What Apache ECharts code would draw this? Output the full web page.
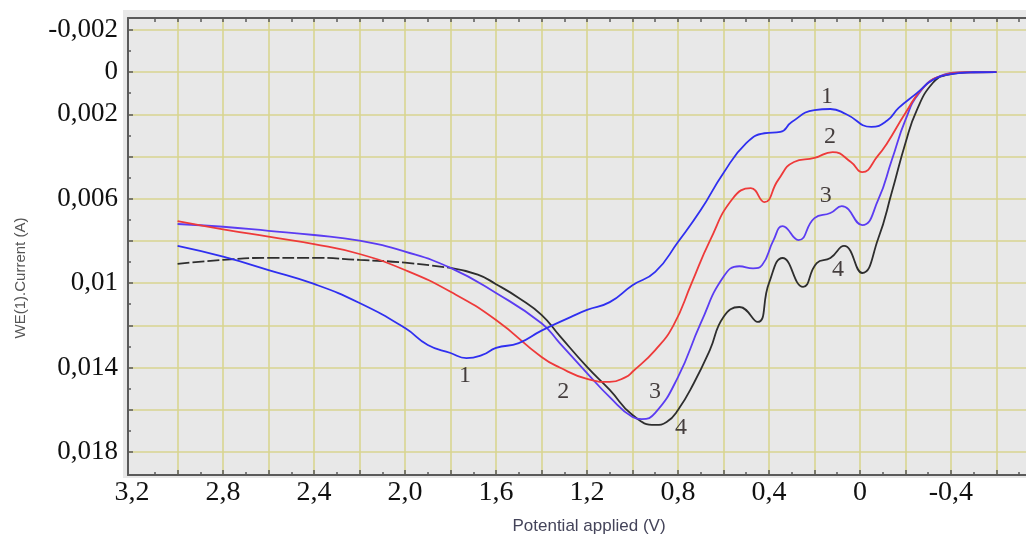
<!DOCTYPE html>
<html>
<head>
<meta charset="utf-8">
<script src="https://cdn.jsdelivr.net/npm/echarts@6/dist/echarts.min.js"></script>
<style>
html, body { margin: 0; padding: 0; background: #fff; }
#chart { width: 1026px; height: 537px; }
</style>
</head>
<body>
<div id="chart"></div>
<script>
// [potential (V), current (A)]
const curve1 = [
	[3.0, 0.00824], [2.8, 0.00875], [2.6, 0.00938], [2.4, 0.01004], [2.2, 0.01094],
	[2.0, 0.01213], [1.9, 0.01293], [1.8, 0.01331], [1.73, 0.01355], [1.66, 0.0134],
	[1.6, 0.01307], [1.5, 0.01284], [1.4, 0.01225], [1.27, 0.0116], [1.2, 0.01127],
	[1.1, 0.0109], [1.0, 0.0101], [0.9, 0.00947], [0.8, 0.00805], [0.7, 0.00654],
	[0.6, 0.00478], [0.5, 0.00337], [0.42, 0.0029], [0.35, 0.00284], [0.3, 0.00237],
	[0.2, 0.0018], [0.13, 0.00175], [0.06, 0.002], [-0.05, 0.0026], [-0.12, 0.0023],
	[-0.17, 0.0017], [-0.25, 0.001], [-0.32, 0.00038], [-0.4, 0.0001], [-0.5, 0.00001],
	[-0.6, 0]
];
const curve2 = [
	[3.0, 0.00706], [2.8, 0.00745], [2.6, 0.0078], [2.4, 0.00815], [2.2, 0.00862],
	[2.0, 0.00938], [1.8, 0.01041], [1.6, 0.01175], [1.4, 0.0135], [1.32, 0.014],
	[1.2, 0.01454], [1.1, 0.01468], [1.03, 0.01445], [1.0, 0.0142], [0.9, 0.01317],
	[0.82, 0.012], [0.74, 0.01], [0.66, 0.008], [0.56, 0.006], [0.48, 0.0055],
	[0.42, 0.00616], [0.36, 0.00512], [0.29, 0.00426], [0.2, 0.00407], [0.12, 0.00379],
	[0.04, 0.00426], [-0.01, 0.00474], [-0.08, 0.00395], [-0.12, 0.00336], [-0.2, 0.00194],
	[-0.28, 0.00071], [-0.37, 0.00014], [-0.45, 0.00002], [-0.6, 0]
];
const curve3 = [
	[3.0, 0.0072], [2.8, 0.00733], [2.6, 0.00752], [2.4, 0.00772], [2.2, 0.00799],
	[2.0, 0.00851], [1.8, 0.00928], [1.6, 0.01047], [1.4, 0.0119], [1.32, 0.01284],
	[1.2, 0.01426], [1.1, 0.0154], [1.0, 0.01634], [0.96, 0.01644], [0.9, 0.01615],
	[0.8, 0.01445], [0.7, 0.0119], [0.6, 0.0097], [0.53, 0.0092], [0.47, 0.0093],
	[0.43, 0.00914], [0.38, 0.00796], [0.34, 0.0073], [0.27, 0.00796], [0.2, 0.00692],
	[0.13, 0.00668], [0.08, 0.00635], [-0.01, 0.00725], [-0.08, 0.00606], [-0.14, 0.00417],
	[-0.2, 0.00227], [-0.26, 0.001], [-0.35, 0.0002], [-0.45, 0.00002], [-0.6, 0]
];
const curve4 = [
	[3.0, 0.00909], [2.8, 0.0089], [2.6, 0.0088], [2.4, 0.0088], [2.2, 0.0089],
	[2.0, 0.00903], [1.8, 0.00928], [1.68, 0.0096], [1.6, 0.01005], [1.5, 0.0107],
	[1.4, 0.0115], [1.32, 0.0125], [1.2, 0.01397], [1.1, 0.01506], [1.0, 0.01625],
	[0.9, 0.01672], [0.85, 0.01658], [0.8, 0.01601], [0.73, 0.01473], [0.66, 0.01317],
	[0.6, 0.0116], [0.53, 0.01113], [0.45, 0.01184], [0.4, 0.01], [0.34, 0.00881],
	[0.25, 0.01018], [0.19, 0.00905], [0.13, 0.00881], [0.07, 0.00824], [-0.01, 0.00952],
	[-0.08, 0.0079], [-0.14, 0.0057], [-0.2, 0.00336], [-0.25, 0.0018], [-0.32, 0.00052],
	[-0.38, 0.00014], [-0.47, 0.00002], [-0.6, 0]
];

// curve numbers written on the plot
const curveLabels = [
	{ name: '1', value: [0.145, 0.00118] },
	{ name: '2', value: [0.132, 0.00308] },
	{ name: '3', value: [0.15, 0.00587] },
	{ name: '4', value: [0.097, 0.00938] },
	{ name: '1', value: [1.736, 0.0144] },
	{ name: '2', value: [1.305, 0.01516] },
	{ name: '3', value: [0.901, 0.01516] },
	{ name: '4', value: [0.787, 0.01686] }
];

const xLabelValues = [3.2, 2.8, 2.4, 2.0, 1.6, 1.2, 0.8, 0.4, 0, -0.4];
const xGridValues = [3.0, 2.8, 2.6, 2.4, 2.2, 2.0, 1.8, 1.6, 1.4, 1.2, 1.0, 0.8, 0.6, 0.4, 0.2, 0, -0.2, -0.4, -0.6];
const xMinorValues = [3.1, 2.9, 2.7, 2.5, 2.3, 2.1, 1.9, 1.7, 1.5, 1.3, 1.1, 0.9, 0.7, 0.5, 0.3, 0.1, -0.1, -0.3, -0.5, -0.7];
const yLabelValues = [-0.002, 0, 0.002, 0.006, 0.01, 0.014, 0.018];
const yGridValues = [-0.002, 0, 0.002, 0.004, 0.006, 0.008, 0.01, 0.012, 0.014, 0.016, 0.018];
const yMinorValues = [-0.001, 0.001, 0.003, 0.005, 0.007, 0.009, 0.011, 0.013, 0.015, 0.017];

const xTop = [...xGridValues, ...xMinorValues];

const X_MIN = -0.73;
const X_MAX = 3.218;
const Y_MIN = -0.00256;
const Y_MAX = 0.01909;

const serif = '"Liberation Serif", "Times New Roman", serif';
const frameColor = '#5a5a5a';
const gridColor = '#d8d590';

const fmtX = (v) => (v === 0 ? '0' : v.toFixed(1).replace('.', ','));
const fmtY = (v) => (v === 0 ? '0' : String(+v.toFixed(3)).replace('.', ','));

const chart = echarts.init(document.getElementById('chart'));

const gridBox = { left: 128, right: 0, top: 18, bottom: 62 };

// second, identical grid only carries the minor ticks
const minorAxis = (ticks) => ({
	type: 'value',
	gridIndex: 1,
	inverse: true,
	axisLine: { show: false, onZero: false },
	axisTick: { show: true, inside: true, length: 3, customValues: ticks, lineStyle: { color: frameColor, width: 1.5 } },
	axisLabel: { show: false },
	splitLine: { show: false }
});

const lineSeries = (data, color, extra) => ({
	type: 'line',
	data: data,
	smooth: 0.5,
	symbol: 'none',
	lineStyle: Object.assign({ color: color, width: 1.8 }, extra || {})
});

const option = {
	animation: false,
	backgroundColor: '#ffffff',
	graphic: [
		{
			type: 'rect',
			z: -10,
			silent: true,
			shape: { x: 123, y: 10, width: 910, height: 468 },
			style: { fill: '#e8e8e8' }
		},
		{
			type: 'text',
			x: 21,
			y: 278,
			rotation: Math.PI / 2,
			style: {
				text: 'WE(1).Current (A)',
				font: '15px "Liberation Sans", Arial, sans-serif',
				fill: '#555555',
				align: 'center',
				verticalAlign: 'middle'
			}
		},
		{
			type: 'text',
			x: 589,
			y: 526,
			style: {
				text: 'Potential applied (V)',
				font: '17px "Liberation Sans", Arial, sans-serif',
				fill: '#44445a',
				align: 'center',
				verticalAlign: 'middle'
			}
		}
	],
	grid: [
		Object.assign({ show: false }, gridBox),
		Object.assign({ show: false }, gridBox)
	],
	xAxis: [
		{
			type: 'value',
			gridIndex: 0,
			position: 'bottom',
			inverse: true,
			min: X_MIN,
			max: X_MAX,
			axisLine: { show: true, onZero: false, lineStyle: { color: frameColor, width: 2 } },
			axisTick: { show: true, inside: true, length: 5, customValues: xGridValues, lineStyle: { color: frameColor, width: 1.5 } },
			axisLabel: {
				customValues: xLabelValues,
				formatter: fmtX,
				fontFamily: serif,
				fontSize: 28,
				color: '#111111',
				margin: 4
			},
			splitLine: { show: true, lineStyle: { color: gridColor, width: 1.6 } }
		},
		{
			type: 'value',
			gridIndex: 0,
			position: 'top',
			inverse: true,
			min: X_MIN,
			max: X_MAX,
			axisLine: { show: true, onZero: false, lineStyle: { color: frameColor, width: 2 } },
			axisTick: { show: true, inside: true, length: 4, customValues: xTop, lineStyle: { color: frameColor, width: 1.5 } },
			axisLabel: { show: false },
			splitLine: { show: false }
		},
		Object.assign(minorAxis(xMinorValues), { position: 'bottom', min: X_MIN, max: X_MAX })
	],
	yAxis: [
		{
			type: 'value',
			gridIndex: 0,
			position: 'left',
			inverse: true,
			min: Y_MIN,
			max: Y_MAX,
			axisLine: { show: true, onZero: false, lineStyle: { color: frameColor, width: 2 } },
			axisTick: { show: true, inside: true, length: 5, customValues: yGridValues, lineStyle: { color: frameColor, width: 1.5 } },
			axisLabel: {
				customValues: yLabelValues,
				formatter: fmtY,
				fontFamily: serif,
				fontSize: 27,
				color: '#111111',
				margin: 10
			},
			splitLine: { show: true, lineStyle: { color: gridColor, width: 1.6 } }
		},
		Object.assign(minorAxis(yMinorValues), { position: 'left', min: Y_MIN, max: Y_MAX })
	],
	series: [
		lineSeries(curve4.filter((p) => p[0] >= 1.8), '#2e2e2e', { type: [12, 3] }),
		lineSeries(curve4.filter((p) => p[0] <= 1.8), '#2e2e2e'),
		lineSeries(curve3, '#5b3cf2'),
		lineSeries(curve2, '#ee3a3a'),
		lineSeries(curve1, '#2f2ff0'),
		{
			type: 'scatter',
			data: curveLabels,
			symbolSize: 0,
			label: {
				show: true,
				position: 'inside',
				formatter: (p) => p.name,
				fontFamily: serif,
				fontSize: 24,
				color: '#1a1212'
			}
		}
	]
};

chart.setOption(option);
</script>
</body>
</html>
